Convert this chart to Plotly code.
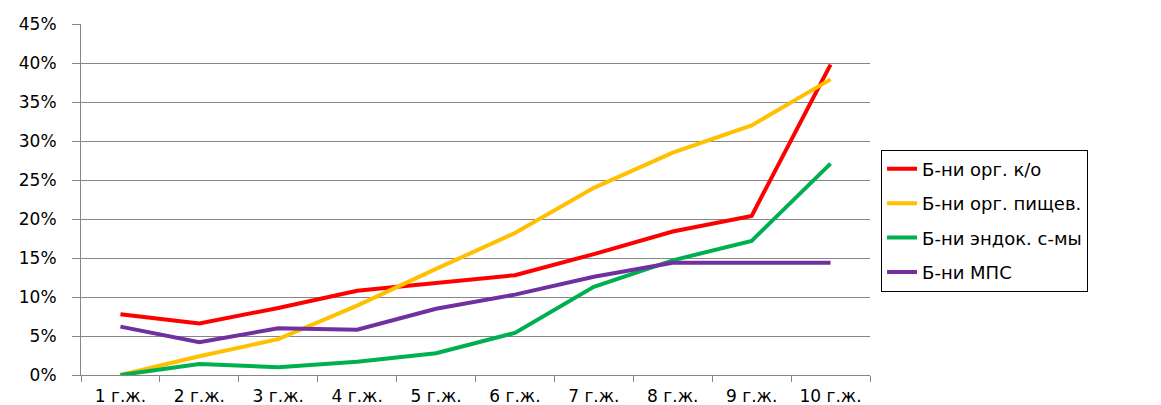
import plotly.graph_objects as go

categories = ["1 г.ж.", "2 г.ж.", "3 г.ж.", "4 г.ж.", "5 г.ж.", "6 г.ж.", "7 г.ж.", "8 г.ж.", "9 г.ж.", "10 г.ж."]
names = ["Б-ни орг. к/о", "Б-ни орг. пищев.", "Б-ни эндок. с-мы", "Б-ни МПС"]
red_vals = [0.078, 0.066, 0.086, 0.108, 0.118, 0.128, 0.155, 0.184, 0.204, 0.398]
yellow_vals = [0.0, 0.024, 0.046, 0.089, 0.136, 0.182, 0.240, 0.285, 0.320, 0.379]
green_vals = [0.0, 0.014, 0.010, 0.017, 0.028, 0.054, 0.113, 0.147, 0.172, 0.271]
purple_vals = [0.062, 0.042, 0.060, 0.058, 0.085, 0.103, 0.126, 0.144, 0.144, 0.144]
colors = ["#FF0000", "#FFC000", "#00B050", "#7030A0"]

fig = go.Figure()
for i, (name, vals, col) in enumerate(zip(names, [red_vals, yellow_vals, green_vals, purple_vals], colors)):
    fig.add_trace(go.Scatter(x=categories, y=vals, mode="lines", name=name,
                             legendgroup=f"g{i}",
                             line=dict(color=col, width=4)))

fig.update_layout(
    width=1161, height=405,
    margin=dict(l=81, r=291, t=24, b=30),
    paper_bgcolor="white", plot_bgcolor="white",
    font=dict(family="DejaVu Sans", size=17, color="black"),
    legend=dict(x=1.014, y=0.44, xanchor="left", yanchor="middle",
                bordercolor="black", borderwidth=1, font=dict(size=18),
                tracegroupgap=8),
    showlegend=True,
)
fig.update_xaxes(type="category", range=[-0.5, 9.5], tickson="boundaries", ticks="outside", ticklen=6,
                 tickcolor="#868686", showline=True, linecolor="#868686", linewidth=1,
                 showgrid=False, tickfont=dict(size=17), ticklabelstandoff=6, automargin=False)
fig.update_yaxes(range=[0, 0.45], dtick=0.05, tickformat=".0%", ticks="outside", ticklen=8,
                 tickcolor="#868686", showline=True, linecolor="#868686", linewidth=1,
                 showgrid=True, gridcolor="#868686", gridwidth=1, zeroline=False,
                 tickfont=dict(size=17), ticklabelstandoff=12, automargin=False)

fig.write_html("out.html")
